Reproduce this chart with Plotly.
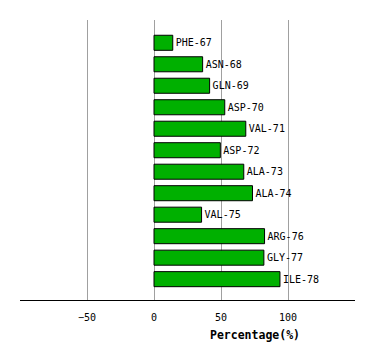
import plotly.graph_objects as go

residues = ["PHE-67", "ASN-68", "GLN-69", "ASP-70", "VAL-71", "ASP-72",
            "ALA-73", "ALA-74", "VAL-75", "ARG-76", "GLY-77", "ILE-78"]
percentages = [14, 36.3, 41.5, 52.8, 68.5, 49.5, 67, 73.5, 35.5, 82.5, 82, 94]
x_ticks = [-50, 0, 50, 100]

fig = go.Figure(go.Bar(
    x=percentages, y=residues, orientation="h",
    width=0.7,
    marker=dict(color="#00b000", line=dict(color="black", width=1)),
    text=residues, textposition="outside",
    textfont=dict(family="DejaVu Sans Mono", size=10, color="black"),
    cliponaxis=False,
))

fig.update_layout(
    width=374, height=360,
    margin=dict(l=20, r=19, t=20, b=60),
    plot_bgcolor="white", paper_bgcolor="white",
    showlegend=False,
    xaxis=dict(range=[-100, 150], tickvals=x_ticks,
               showgrid=True, gridcolor="#a0a0a0", gridwidth=1,
               zeroline=True, zerolinecolor="#a0a0a0", zerolinewidth=1,
               showline=True, linecolor="black", linewidth=1,
               ticks="outside", ticklen=8, tickcolor="rgba(0,0,0,0)",
               tickfont=dict(family="DejaVu Sans Mono", size=10, color="black")),
    yaxis=dict(range=[11.97, -1.06], showticklabels=False, showgrid=False,
               zeroline=False, showline=False, categoryorder="array",
               categoryarray=residues),
    annotations=[dict(text="<b>Percentage(%)</b>", xref="paper", yref="paper",
                      x=(254.7 - 20) / 335, y=-35 / 280, xanchor="center", yanchor="middle",
                      showarrow=False,
                      font=dict(family="DejaVu Sans Mono", size=11.5, color="black"))],
)

fig.write_html("out.html")
